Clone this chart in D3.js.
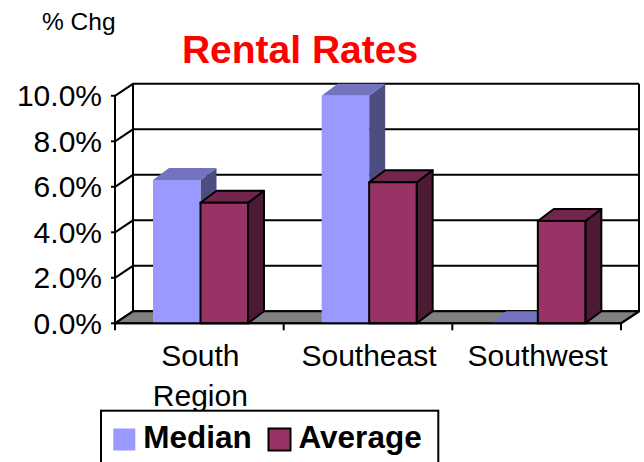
<!DOCTYPE html>
<html>
<head>
<meta charset="utf-8">
<script src="https://cdn.jsdelivr.net/npm/d3@7"></script>
<style>
  html, body { margin: 0; padding: 0; background: #fff; }
  svg { display: block; }
  text { font-family: "Liberation Sans", Arial, sans-serif; }
</style>
</head>
<body>
<svg id="chart" width="644" height="462"></svg>
<script>
// ---- data ----
const categories = ["South Region", "Southeast", "Southwest"];
const seriesNames = ["Median", "Average"];
const medianValues = [6.3, 10.0, 0.0];
const averageValues = [5.3, 6.2, 4.5];
const yTicks = [0, 2, 4, 6, 8, 10];
const titleText = "Rental Rates";
const yAxisTitle = "% Chg";

const seriesValues = [medianValues, averageValues];
const colors = {
  Median:  { front: "#9999FF", top: "#7373C0", side: "#4D4D80", stroke: "none" },
  Average: { front: "#993366", top: "#73264D", side: "#4D1A33", stroke: "#000" }
};

const svg = d3.select("#chart");

// plot geometry
const x0 = 115, x1 = 621, yBase = 323.3, yTop = 95.8;
const depthX = 18, depthY = -12;      // wall depth
const barDX = 16, barDY = -12;        // bar depth

const x = d3.scaleBand().domain(categories).range([x0, x1]).paddingInner(0).paddingOuter(0);
const xs = d3.scaleBand().domain(seriesNames).range([38, 38 + 95]).padding(0);
const y = d3.scaleLinear().domain([0, 10]).range([yBase, yTop]);

const line = d3.line();

// back wall gridlines
const g = svg.append("g");
yTicks.forEach(t => {
  const yy = y(t);
  g.append("path").attr("d", line([[x0, yy], [x0 + depthX, yy + depthY], [x1 + depthX, yy + depthY]]))
    .attr("fill", "none").attr("stroke", "#000").attr("stroke-width", 2);
});
// back wall verticals
g.append("path").attr("d", line([[x0 + depthX, y(0) + depthY], [x0 + depthX, y(10) + depthY]]))
  .attr("stroke", "#000").attr("stroke-width", 2);
g.append("path").attr("d", line([[x1 + depthX, y(0) + depthY], [x1 + depthX, y(10) + depthY]]))
  .attr("stroke", "#000").attr("stroke-width", 2);

// floor
g.append("path")
  .attr("d", line([[x0, y(0)], [x1, y(0)], [x1 + depthX, y(0) + depthY], [x0 + depthX, y(0) + depthY]]) + "Z")
  .attr("fill", "#808080").attr("stroke", "#000").attr("stroke-width", 2).attr("stroke-linejoin", "round");

// front value axis line
g.append("path").attr("d", line([[x0, y(0)], [x0, y(10)]])).attr("stroke", "#000").attr("stroke-width", 2);

// bars
const bars = svg.append("g");
categories.forEach((c, ci) => {
  seriesNames.forEach((s, si) => {
    const v = seriesValues[si][ci];
    const col = colors[s];
    const bx = x(c) + xs(s), bw = xs.bandwidth();
    const yv = y(v), y0v = y(0);
    const sw = col.stroke === "none" ? 0 : 2;
    // side
    if (v > 0) {
      bars.append("path")
        .attr("d", line([[bx + bw, yv], [bx + bw + barDX, yv + barDY], [bx + bw + barDX, y0v + barDY], [bx + bw, y0v]]) + "Z")
        .attr("fill", col.side).attr("stroke", col.stroke).attr("stroke-width", sw).attr("stroke-linejoin", "round");
    }
    // top
    bars.append("path")
      .attr("d", line([[bx, yv], [bx + barDX, yv + barDY], [bx + bw + barDX, yv + barDY], [bx + bw, yv]]) + "Z")
      .attr("fill", col.top).attr("stroke", v > 0 ? col.stroke : "none").attr("stroke-width", sw).attr("stroke-linejoin", "round");
    // front
    if (v > 0) {
      bars.append("rect")
        .attr("x", bx).attr("y", yv).attr("width", bw).attr("height", y0v - yv)
        .attr("fill", col.front).attr("stroke", col.stroke).attr("stroke-width", sw);
    }
  });
});

// front floor edge
svg.append("path").attr("d", line([[x0, y(0)], [x1, y(0)], [x1 + depthX, y(0) + depthY]]))
  .attr("fill", "none").attr("stroke", "#000").attr("stroke-width", 2);

// y ticks & labels
const ya = svg.append("g");
yTicks.forEach(t => {
  ya.append("path").attr("d", line([[x0 - 4, y(t)], [x0, y(t)]])).attr("stroke", "#000").attr("stroke-width", 2);
  ya.append("text").attr("x", 102).attr("y", y(t) + 10.5).attr("text-anchor", "end")
    .attr("font-size", 30).attr("fill", "#000").text(d3.format(".1f")(t) + "%");
});

// category ticks
const xa = svg.append("g");
[x0, ...categories.map(c => x(c) + x.bandwidth())].forEach(tx => {
  xa.append("path").attr("d", line([[tx, y(0)], [tx, y(0) + 7]])).attr("stroke", "#000").attr("stroke-width", 2);
});
categories.forEach(c => {
  const words = c.split(" ");
  const t = xa.append("text").attr("x", x(c) + x.bandwidth() / 2 + 1).attr("y", 366)
    .attr("text-anchor", "middle").attr("font-size", 30).attr("fill", "#000");
  words.forEach((w, i) => {
    t.append("tspan").attr("x", x(c) + x.bandwidth() / 2 + 1).attr("dy", i === 0 ? 0 : 40).text(w);
  });
});

// titles
svg.append("text").attr("x", 300).attr("y", 62.5).attr("text-anchor", "middle")
  .attr("font-size", 39).attr("font-weight", "bold").attr("fill", "#FF0000").text(titleText);
svg.append("text").attr("x", 42).attr("y", 29.5).attr("font-size", 24.5).attr("fill", "#000").text(yAxisTitle);

// legend
const lg = svg.append("g");
lg.append("rect").attr("x", 101).attr("y", 410.7).attr("width", 337.3).attr("height", 70)
  .attr("fill", "#fff").attr("stroke", "#000").attr("stroke-width", 2);
const legendX = [113.3, 268.5];
seriesNames.forEach((s, i) => {
  const col = colors[s];
  lg.append("rect").attr("x", legendX[i]).attr("y", 428.5).attr("width", 22).attr("height", 22)
    .attr("fill", col.front).attr("stroke", col.stroke === "none" ? "none" : "#000").attr("stroke-width", 2);
  lg.append("text").attr("x", legendX[i] + 30).attr("y", 447.8).attr("font-size", 31.5).attr("font-weight", "bold")
    .attr("fill", "#000").text(s);
});
</script>
</body>
</html>
